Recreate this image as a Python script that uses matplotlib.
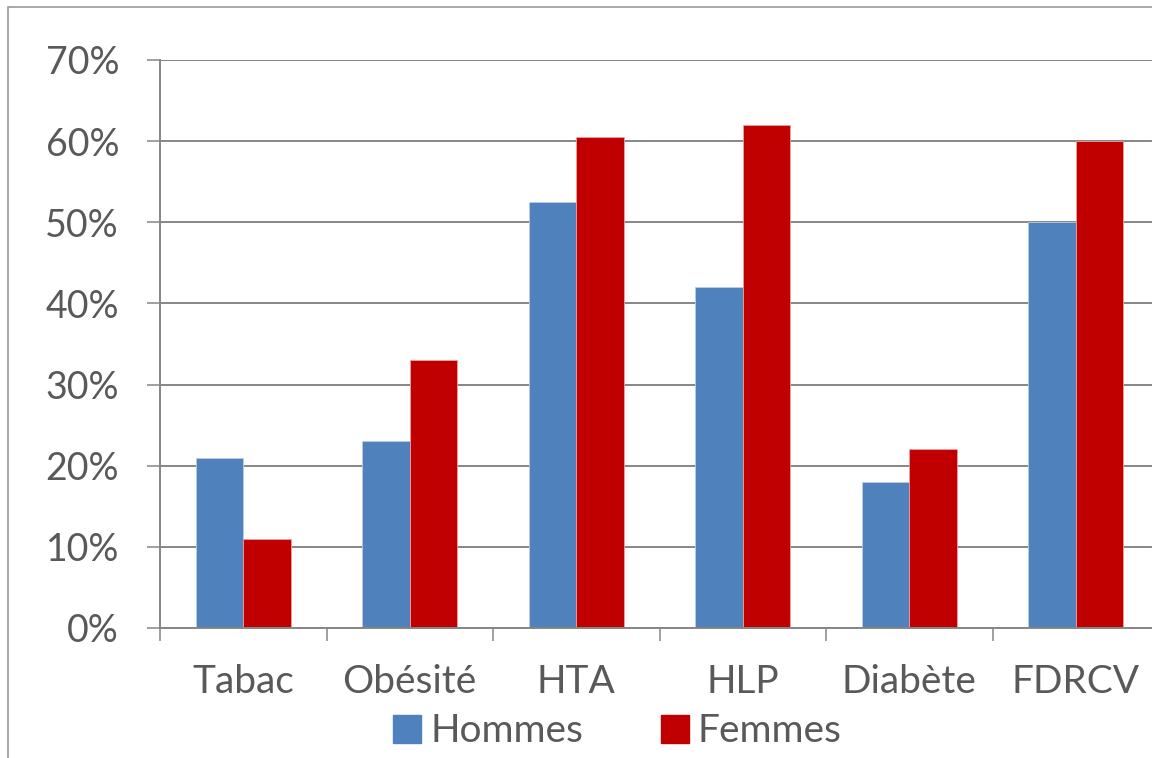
import matplotlib.pyplot as plt
import numpy as np
from matplotlib.patches import Rectangle, Patch
from matplotlib.ticker import PercentFormatter

plt.rcParams['font.family'] = ['Lato', 'DejaVu Sans']

# Data
categories = ["Tabac", "Obésité", "HTA", "HLP", "Diabète", "FDRCV"]
hommes = [21, 23, 52.5, 42, 18, 50]
femmes = [11, 33, 60.5, 62, 22, 60]

blue = "#4F81BD"
red = "#C00000"
grey = "#868686"
text_col = "#595959"

fig = plt.figure(figsize=(11.52, 7.58), dpi=100)
ax = fig.add_axes([160 / 1152, 130 / 758, 999 / 1152, 568 / 758])

x = np.arange(len(categories))
w = 0.285
ax.bar(x - w / 2, hommes, w, color=blue, edgecolor="#b9cde5", linewidth=0.6, zorder=3)
ax.bar(x + w / 2, femmes, w, color=red, edgecolor="#f0a0a0", linewidth=0.6, zorder=3)

ax.set_xlim(-0.5, len(categories) - 0.5)
ax.set_ylim(0, 70)
ax.set_yticks(range(0, 71, 10))
ax.yaxis.set_major_formatter(PercentFormatter(decimals=0))
ax.yaxis.grid(True, color=grey, linewidth=1.4, zorder=0)

# category ticks at boundaries, labels centred
ax.set_xticks(np.arange(-0.5, len(categories), 1.0))
ax.set_xticklabels([])
ax.set_xticks(x, minor=True)
ax.set_xticklabels(categories, minor=True)
ax.tick_params(axis="x", which="minor", length=0, pad=26, labelsize=28, labelcolor=text_col)
ax.tick_params(axis="x", which="major", length=9.5, width=1.1, color=grey)
ax.tick_params(axis="y", length=9.5, width=1.1, color=grey, labelsize=27, labelcolor=text_col, pad=20)

for s in ["top", "right"]:
    ax.spines[s].set_visible(False)
for s in ["left", "bottom"]:
    ax.spines[s].set_color(grey)
    ax.spines[s].set_linewidth(1.4)
ax.spines["bottom"].set_zorder(4)

handles = [Patch(color=blue, label="Hommes"), Patch(color=red, label="Femmes")]
fig.legend(handles=handles, loc="center", bbox_to_anchor=(0.536, 0.035), ncol=2,
           frameon=False, fontsize=28, labelcolor=text_col, handlelength=0.72,
           handleheight=0.72, handletextpad=0.23, columnspacing=2.0)

# chart border (partly cropped in the original)
fig.patches.append(Rectangle((7.5 / 1152, -0.1), 1.2, 1.1 - 7.5 / 758,
                             transform=fig.transFigure, fill=False,
                             edgecolor="#9a9a9a", linewidth=1.2))

plt.savefig("out.png", dpi=100)
